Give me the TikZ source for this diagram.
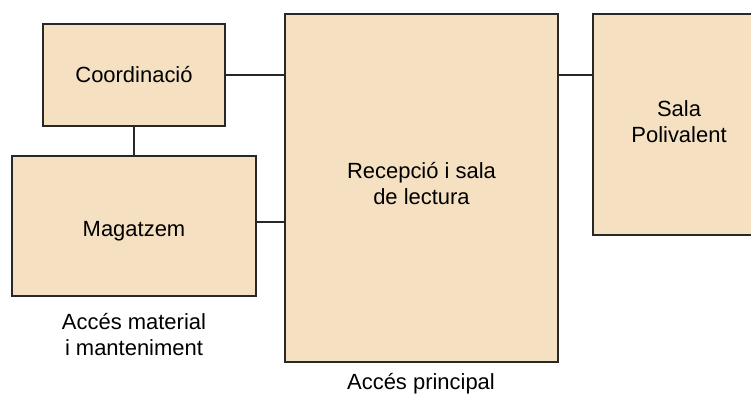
\documentclass[tikz,border=0pt]{standalone}
\usepackage{fontspec}
\setmainfont{Liberation Sans}
\definecolor{roombg}{RGB}{245,225,194}
\definecolor{roomline}{RGB}{40,40,40}
\tikzset{
  room/.style={draw=roomline, fill=roombg, line width=1.1pt, rectangle,
    align=center, inner sep=0pt},
  acces/.style={align=center, inner sep=0pt},
}
\begin{document}
\begin{tikzpicture}[font=\fontsize{12.5}{14.8}\selectfont]
  \useasboundingbox (0,0) rectangle (15.02,7.92);
  \draw
    (2.68,6.42) node[room, minimum width=3.64cm, minimum height=2.04cm] (coord){Coordinació}
    (2.68,3.40) node[room, minimum width=4.88cm, minimum height=2.80cm, text height=14pt] (mag){Magatzem}
    (8.43,4.16) node[room, minimum width=5.46cm, minimum height=6.96cm, text depth=5.4pt] (rec){Recepció i sala\\de lectura}
    (13.58,5.43) node[room, minimum width=3.44cm, minimum height=4.42cm, text depth=3.6pt] (sala){Sala\\Polivalent};
  \draw
    (2.68,1.22) node[acces] (accmat){Accés material\\i manteniment}
    (8.42,0.24) node[acces] (accpri){Accés principal};
  \begin{scope}[draw=roomline, line width=1.1pt]
    \draw (coord.south) to (mag.north);
    \draw (coord.east) to (coord.east -| rec.west);
    \draw ([yshift=0.08cm]mag.east) to ([yshift=0.08cm]mag.east -| rec.west);
    \draw (coord.east -| rec.east) to (coord.east -| sala.west);
  \end{scope}
\end{tikzpicture}
\end{document}
